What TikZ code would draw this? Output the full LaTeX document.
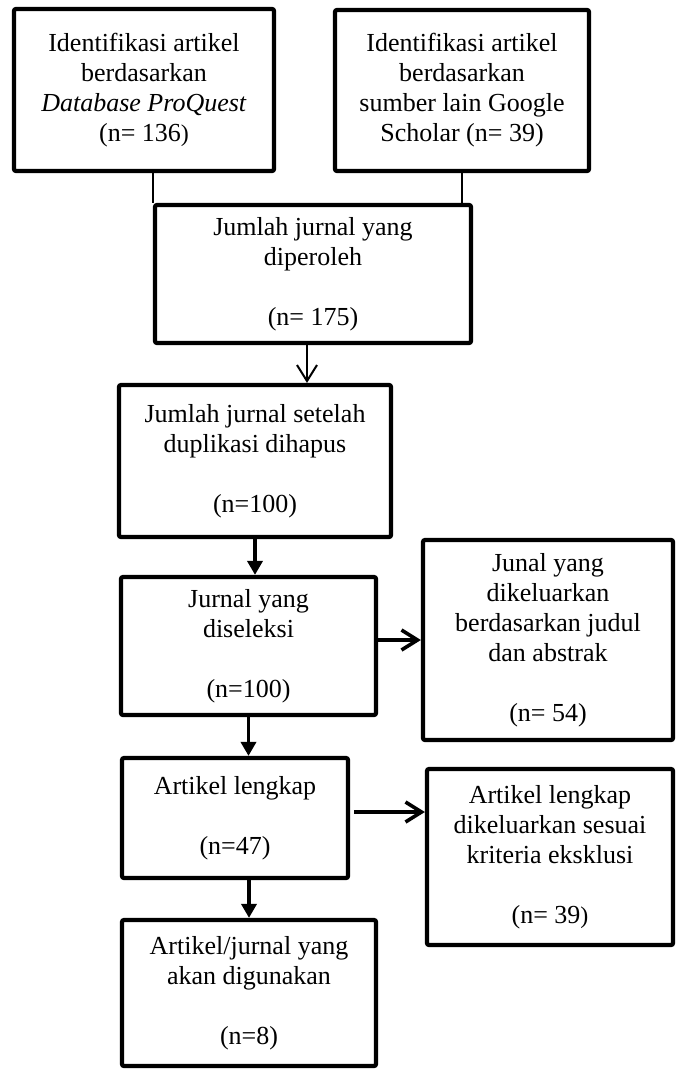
\documentclass[tikz,border=0pt]{standalone}
\usepackage{fontspec}
\setmainfont{Liberation Serif}
\usetikzlibrary{arrows.meta}

\begin{document}
\begin{tikzpicture}[x=0.5pt, y=-0.5pt,
  box/.style={draw, line width=2.1pt, rounded corners=1pt, align=center,
    font=\fontsize{13pt}{15pt}\selectfont},
  link/.style={line width=0.6pt},
  openarrow/.style={-{Straight Barb[length=8pt, width=10pt]}},
  filledarrow/.style={-{Triangle[length=7pt, width=7.5pt]}, line width=1.8pt}]
\useasboundingbox (0,0) rectangle (675,1071);
\node[box, minimum width=130pt, minimum height=81pt] (proquest) at (144,90)
{Identifikasi artikel \\ berdasarkan \\ \textit{Database ProQuest} \\ (n= 136{\large)}};
\node[box, minimum width=127pt, minimum height=80.5pt] (scholar) at (462,90.5)
{Identifikasi artikel \\ berdasarkan \\ sumber lain Google \\ Scholar (n= 39)};
\node[box, minimum width=158pt, minimum height=69pt] (obtained) at (313,274)
{Jumlah jurnal yang \\ diperoleh \\[15pt] (n= 175)};
\node[box, minimum width=136pt, minimum height=76pt] (deduped) at (255,461)
{Jumlah jurnal setelah \\ duplikasi dihapus \\[15pt] (n=100)};
\node[box, minimum width=127.5pt, minimum height=69pt] (screened) at (248.5,646)
{Jurnal yang \\ diseleksi \\[15pt] (n=100)};
\node[box, minimum width=125pt, minimum height=100pt] (excluded) at (548,640)
{Junal yang \\ dikeluarkan \\ berdasarkan judul \\ dan abstrak \\[15pt] (n= 54)};
\node[box, minimum width=113pt, minimum height=60pt] (fulltext) at (235,818)
{Artikel lengkap \\[15pt] (n=47)};
\node[box, minimum width=123pt, minimum height=88pt] (fulltextout) at (550,857)
{Artikel lengkap \\ dikeluarkan sesuai \\ kriteria eksklusi \\[15pt] (n= 39{\large)}};
\node[box, minimum width=127pt, minimum height=73pt] (included) at (249,993)
{Artikel/jurnal yang \\ akan digunakan \\[15pt] (n=8)};

\draw[link] (proquest.south -| obtained.north west) -- (obtained.north west);
\draw[link] (scholar.south) -- (scholar.south |- obtained.north);
\draw[openarrow, line width=1pt] ([xshift=-3pt]obtained.south) -- ([xshift=-3pt]obtained.south |- deduped.north);
\draw[filledarrow] (deduped.south) -- (deduped.south |- screened.north);
\draw[openarrow, line width=1.8pt] (screened.east |- excluded.west) -- (excluded.west);
\draw[filledarrow] (screened.south) -- (screened.south |- fulltext.north);
\draw[openarrow, line width=1.8pt] ([xshift=2pt, yshift=3pt]fulltext.east) -- ([yshift=3pt]fulltext.east -| fulltextout.west);
\draw[filledarrow] (included.north |- fulltext.south) -- (included.north);
\end{tikzpicture}
\end{document}
